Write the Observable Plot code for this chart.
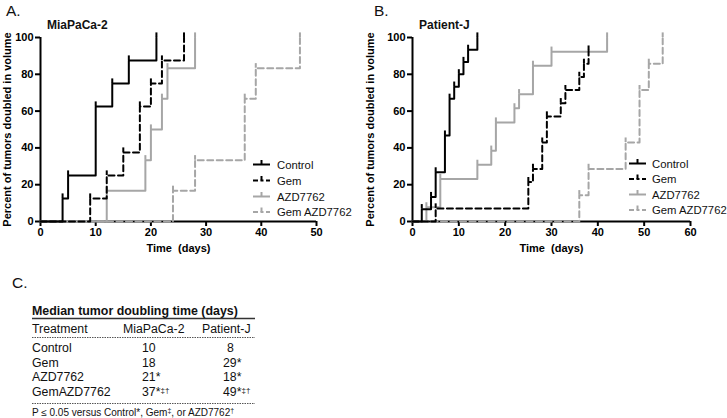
<!DOCTYPE html>
<html><head><meta charset="utf-8">
<script src="https://cdn.jsdelivr.net/npm/d3@7"></script>
<script src="https://cdn.jsdelivr.net/npm/@observablehq/plot@0.6"></script>
<style>
body{margin:0;background:#fff;font-family:"Liberation Sans",Arial,sans-serif;}
#root{position:relative;width:727px;height:418px;overflow:hidden;background:#fff;}
.pane{position:absolute;top:0;}
#overlay{position:absolute;left:0;top:0;}
</style></head><body><div id="root"></div>
<script>
const seriesNames = ["Control", "Gem", "AZD7762", "Gem AZD7762"];
// Panel A: MiaPaCa-2 (days, percent of tumors doubled)
const miaControlDays = [0, 4, 5, 10, 13, 16, 21];
const miaControlPct  = [0, 12.5, 25, 62.5, 75, 87.5, 100];
const miaGemDays = [0, 9, 12, 15, 18, 20, 22, 26];
const miaGemPct  = [0, 12.5, 25, 37.5, 62.5, 75, 87.5, 100];
const miaAzdDays = [0, 12, 19, 20, 22, 23, 28];
const miaAzdPct  = [0, 16.7, 33.3, 50, 66.7, 83.3, 100];
const miaComboDays = [0, 24, 28, 37, 39, 47];
const miaComboPct  = [0, 16.7, 33.3, 66.7, 83.3, 100];
// Panel B: Patient-J
const pjControlDays = [0, 2, 4, 5, 7, 8, 9, 10, 11, 12, 14];
const pjControlPct  = [0, 6.7, 13.3, 26.7, 46.7, 66.7, 73.3, 80, 86.7, 93.3, 100];
const pjGemDays = [0, 5, 25, 26, 28, 29, 32, 33, 36, 37, 38];
const pjGemPct  = [0, 7.1, 21.4, 28.6, 42.9, 57.1, 64.3, 71.4, 78.6, 85.7, 92.9];
const pjAzdDays = [0, 3, 6, 14, 17, 18, 22, 23, 26, 30, 42];
const pjAzdPct  = [0, 7.7, 23.1, 30.8, 38.5, 53.8, 61.5, 69.2, 84.6, 92.3, 100];
const pjComboDays = [0, 36, 38, 46, 49, 51, 54];
const pjComboPct  = [0, 14.3, 28.6, 42.9, 71.4, 85.7, 100];
// Axis ticks
const yTicks = [0, 20, 40, 60, 80, 100];
const xTicksA = [0, 10, 20, 30, 40, 50];
const xTicksB = [0, 10, 20, 30, 40, 50, 60];
// Table C
const tableTreatments = ["Control", "Gem", "AZD7762", "GemAZD7762"];
const tableMia = ["10", "18", "21*", "37*"];
const tableMiaSup = ["", "", "", "‡†"];
const tablePJ = ["8", "29*", "18*", "49*"];
const tablePJSup = ["", "", "", "‡†"];

const FONT = "'Liberation Sans', Arial, sans-serif";
const gray = "#a6a6a6";
const styleFor = {
  "Control": {stroke: "#000", dash: null},
  "Gem": {stroke: "#000", dash: "6,3.5"},
  "AZD7762": {stroke: gray, dash: null},
  "Gem AZD7762": {stroke: gray, dash: "6,3.5"}
};

function toRows(daysList, pctList) {
  const rows = [];
  daysList.forEach((days, i) => days.forEach((d, j) => rows.push({series: seriesNames[i], day: d, pct: pctList[i][j]})));
  return rows;
}

function panel(rows, {xMax, xTicks, width, marginLeft, marginRight, yLabelOffset}) {
  const marks = [
    Plot.axisY({ticks: yTicks, tickSize: 5, strokeWidth: 2, tickPadding: 2, label: "Percent of tumors doubled in volume", labelAnchor: "center", labelArrow: "none", labelOffset: yLabelOffset}),
    Plot.axisX({ticks: xTicks, tickSize: 5, strokeWidth: 2, tickPadding: 2, label: "Time  (days)", labelAnchor: "center", labelArrow: "none", labelOffset: 30}),
    Plot.ruleX([0], {y1: 0, y2: 100, strokeWidth: 2}),
    Plot.ruleY([0], {x1: 0, x2: xMax, strokeWidth: 2})
  ];
  for (const name of [...seriesNames].reverse()) {
    const s = styleFor[name];
    const data = rows.filter(r => r.series === name);
    const opts = {x: "day", y: "pct", curve: "step-after", stroke: s.stroke, strokeWidth: 2};
    if (s.dash) opts.strokeDasharray = s.dash;
    marks.push(Plot.line(data, opts));
    marks.push(Plot.ruleX(data.filter(r => r.day > 0), {x: "day", y1: "pct", y2: r => r.pct + 2.5, stroke: s.stroke, strokeWidth: 2}));
  }
  return Plot.plot({
    width, height: 255, marginLeft, marginRight, marginTop: 37, marginBottom: 34,
    style: {fontFamily: FONT, fontSize: "11px", fontWeight: "bold", color: "#000", background: "transparent", overflow: "visible"},
    x: {domain: [0, xMax]},
    y: {domain: [0, 100]},
    marks
  });
}

const root = document.getElementById("root");
const rowsA = toRows([miaControlDays, miaGemDays, miaAzdDays, miaComboDays], [miaControlPct, miaGemPct, miaAzdPct, miaComboPct]);
const rowsB = toRows([pjControlDays, pjGemDays, pjAzdDays, pjComboDays], [pjControlPct, pjGemPct, pjAzdPct, pjComboPct]);

const divA = document.createElement("div"); divA.className = "pane"; divA.style.left = "0px"; divA.style.width = "363px";
divA.appendChild(panel(rowsA, {xMax: 50, xTicks: xTicksA, width: 363, marginLeft: 40, marginRight: 47, yLabelOffset: 37.5}));
root.appendChild(divA);
const divB = document.createElement("div"); divB.className = "pane"; divB.style.left = "355px"; divB.style.width = "372px";
divB.appendChild(panel(rowsB, {xMax: 60, xTicks: xTicksB, width: 372, marginLeft: 57, marginRight: 37, yLabelOffset: 46}));
root.appendChild(divB);

// Overlay: panel letters, titles, legends, table
const svg = d3.select(root).append("svg").attr("id", "overlay").attr("width", 727).attr("height", 418)
  .style("font-family", FONT);
function txt(x, y, s, size, weight, anchor) {
  return svg.append("text").attr("x", x).attr("y", y).attr("font-size", size).attr("font-weight", weight || "normal")
    .attr("text-anchor", anchor || "start").attr("fill", "#111").text(s);
}
txt(6, 15.5, "A.", 15.5);
txt(47, 29, "MiaPaCa-2", 12, "bold");
txt(374, 15.5, "B.", 15.5);
txt(419, 29, "Patient-J", 12, "bold");
txt(12, 288, "C.", 15.5);

function legend(x0, ys, tx) {
  seriesNames.forEach((name, i) => {
    const s = styleFor[name];
    const y = ys[i];
    const l = svg.append("line").attr("x1", x0).attr("x2", x0 + 17).attr("y1", y).attr("y2", y)
      .attr("stroke", s.stroke).attr("stroke-width", 2);
    if (s.dash) l.attr("stroke-dasharray", "5,2.5,3,2.5,5");
    svg.append("line").attr("x1", x0 + 8.5).attr("x2", x0 + 8.5).attr("y1", y).attr("y2", y - 4.5)
      .attr("stroke", s.stroke).attr("stroke-width", 2);
    txt(tx, y + 4, name, 11.3);
  });
}
legend(253, [164.5, 180.5, 196.5, 212], 277);
legend(629, [163.5, 179, 194.5, 210], 652);

// Table
txt(32, 314.5, "Median tumor doubling time (days)", 12.4, "bold");
svg.append("line").attr("x1", 32).attr("x2", 255).attr("y1", 318.5).attr("y2", 318.5).attr("stroke", "#333").attr("stroke-width", 1.5);
txt(32, 333, "Treatment", 12.3);
txt(123, 333, "MiaPaCa-2", 12.3);
txt(202, 333, "Patient-J", 12.3);
svg.append("line").attr("x1", 32).attr("x2", 255).attr("y1", 337.5).attr("y2", 337.5).attr("stroke", "#555").attr("stroke-width", 1).attr("stroke-dasharray", "1.5,1");
const rowY = [351.5, 366.5, 381, 395.5];
tableTreatments.forEach((t, i) => {
  txt(32, rowY[i], t, 12.3);
  const a = txt(142, rowY[i], tableMia[i], 12.3);
  if (tableMiaSup[i]) a.append("tspan").attr("font-size", 8).attr("dy", -3).text(tableMiaSup[i]);
  const b = txt(tablePJ[i].length === 1 ? 227 : 223, rowY[i], tablePJ[i], 12.3);
  if (tablePJSup[i]) b.append("tspan").attr("font-size", 8).attr("dy", -3).text(tablePJSup[i]);
});
svg.append("line").attr("x1", 32).attr("x2", 255).attr("y1", 403.5).attr("y2", 403.5).attr("stroke", "#555").attr("stroke-width", 1).attr("stroke-dasharray", "1.5,1");
const foot = txt(32, 416, "P ≤ 0.05 versus Control*, Gem", 10);
foot.append("tspan").attr("font-size", 7).attr("dy", -3).text("‡");
foot.append("tspan").attr("dy", 3).text(", or AZD7762");
foot.append("tspan").attr("font-size", 7).attr("dy", -3).text("†");
</script></body></html>
